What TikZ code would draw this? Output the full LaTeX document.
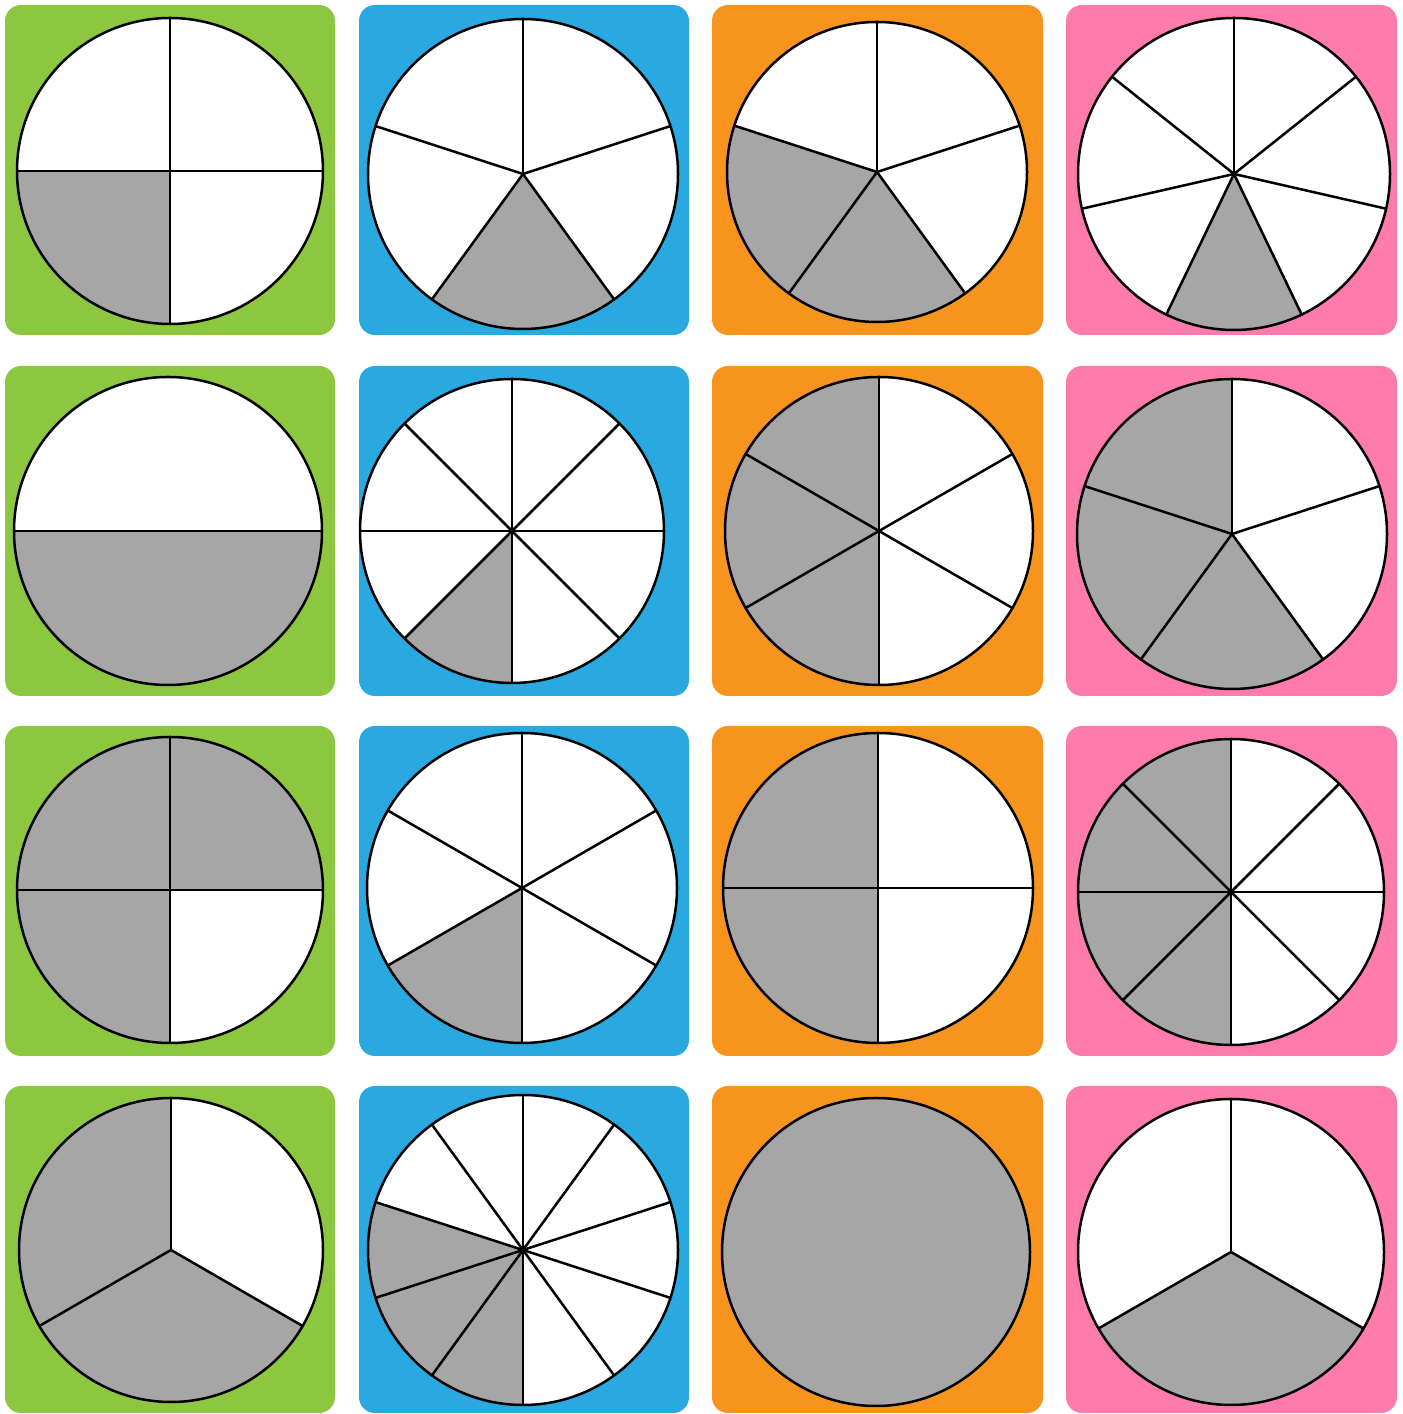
\documentclass[tikz,border=0pt]{standalone}
\usepackage{tikz}
\definecolor{cgreen}{HTML}{8DC63F}
\definecolor{cblue}{HTML}{29A9E0}
\definecolor{corange}{HTML}{F7941D}
\definecolor{cpink}{HTML}{FF7BAC}
\definecolor{cshade}{HTML}{A6A6A6}
\tikzset{
  tile/.style={rounded corners=16pt},
  sector/.style={fill=cshade},
  pieline/.style={line width=2.5pt, line join=round, line cap=round},
}
% #1 cx, #2 cy, #3 r, #4 n, #5 start angle, #6 shaded indices
\newcommand\piechart[6]{%
  \begin{scope}[shift={(#1pt,#2pt)}]
    \fill[white] (0pt,0pt) circle[radius=#3pt];
    \foreach \k in {#6} {
      \pgfmathsetmacro\aa{#5+\k*360/#4}
      \fill[sector] (0pt,0pt) -- (\aa:#3pt) arc[start angle=\aa, delta angle={360/#4}, radius=#3pt] -- cycle;
    }
    \foreach \j in {1,...,#4} {
      \pgfmathsetmacro\bb{#5+(\j-1)*360/#4}
      \draw[pieline] (0pt,0pt) -- (\bb:#3pt);
    }
    \draw[pieline] (0pt,0pt) circle[radius=#3pt];
  \end{scope}
}
\begin{document}
\begin{tikzpicture}
\useasboundingbox (0pt,0pt) rectangle (1403pt,1414pt);
\fill[white] (0pt,0pt) rectangle (1403pt,1414pt);
% tiles
\foreach \yb/\yt in {1079/1409, 718/1048, 358/688, 1/328} {
  \fill[cgreen, tile] (5pt,\yb pt) rectangle (335pt,\yt pt);
  \fill[cblue, tile] (359pt,\yb pt) rectangle (689pt,\yt pt);
  \fill[corange, tile] (712pt,\yb pt) rectangle (1043pt,\yt pt);
  \fill[cpink, tile] (1066pt,\yb pt) rectangle (1397pt,\yt pt);
}
% row 1
\piechart{170}{1243}{153}{4}{90}{1}
\piechart{523}{1240}{155}{5}{90}{2}
\piechart{877}{1242}{150}{5}{90}{1,2}
\piechart{1234}{1240}{156}{7}{90}{3}
% row 2
\piechart{168}{883}{154}{2}{0}{1}
\piechart{512}{883}{152}{8}{90}{3}
\piechart{879}{883}{154}{6}{90}{0,1,2}
\piechart{1232}{880}{155}{5}{90}{0,1,2}
% row 3
\piechart{170}{524}{153}{4}{90}{0,1,3}
\piechart{522}{526}{155}{6}{90}{2}
\piechart{878}{526}{155}{4}{90}{0,1}
\piechart{1231}{522}{153}{8}{90}{0,1,2,3}
% row 4
\piechart{171}{164}{152}{3}{90}{0,1}
\piechart{523}{164}{155}{10}{90}{2,3,4}
\fill[cshade] (876pt,162pt) circle[radius=154pt];
\draw[pieline] (876pt,162pt) circle[radius=154pt];
\piechart{1231}{162}{153}{3}{90}{1}
\end{tikzpicture}
\end{document}
